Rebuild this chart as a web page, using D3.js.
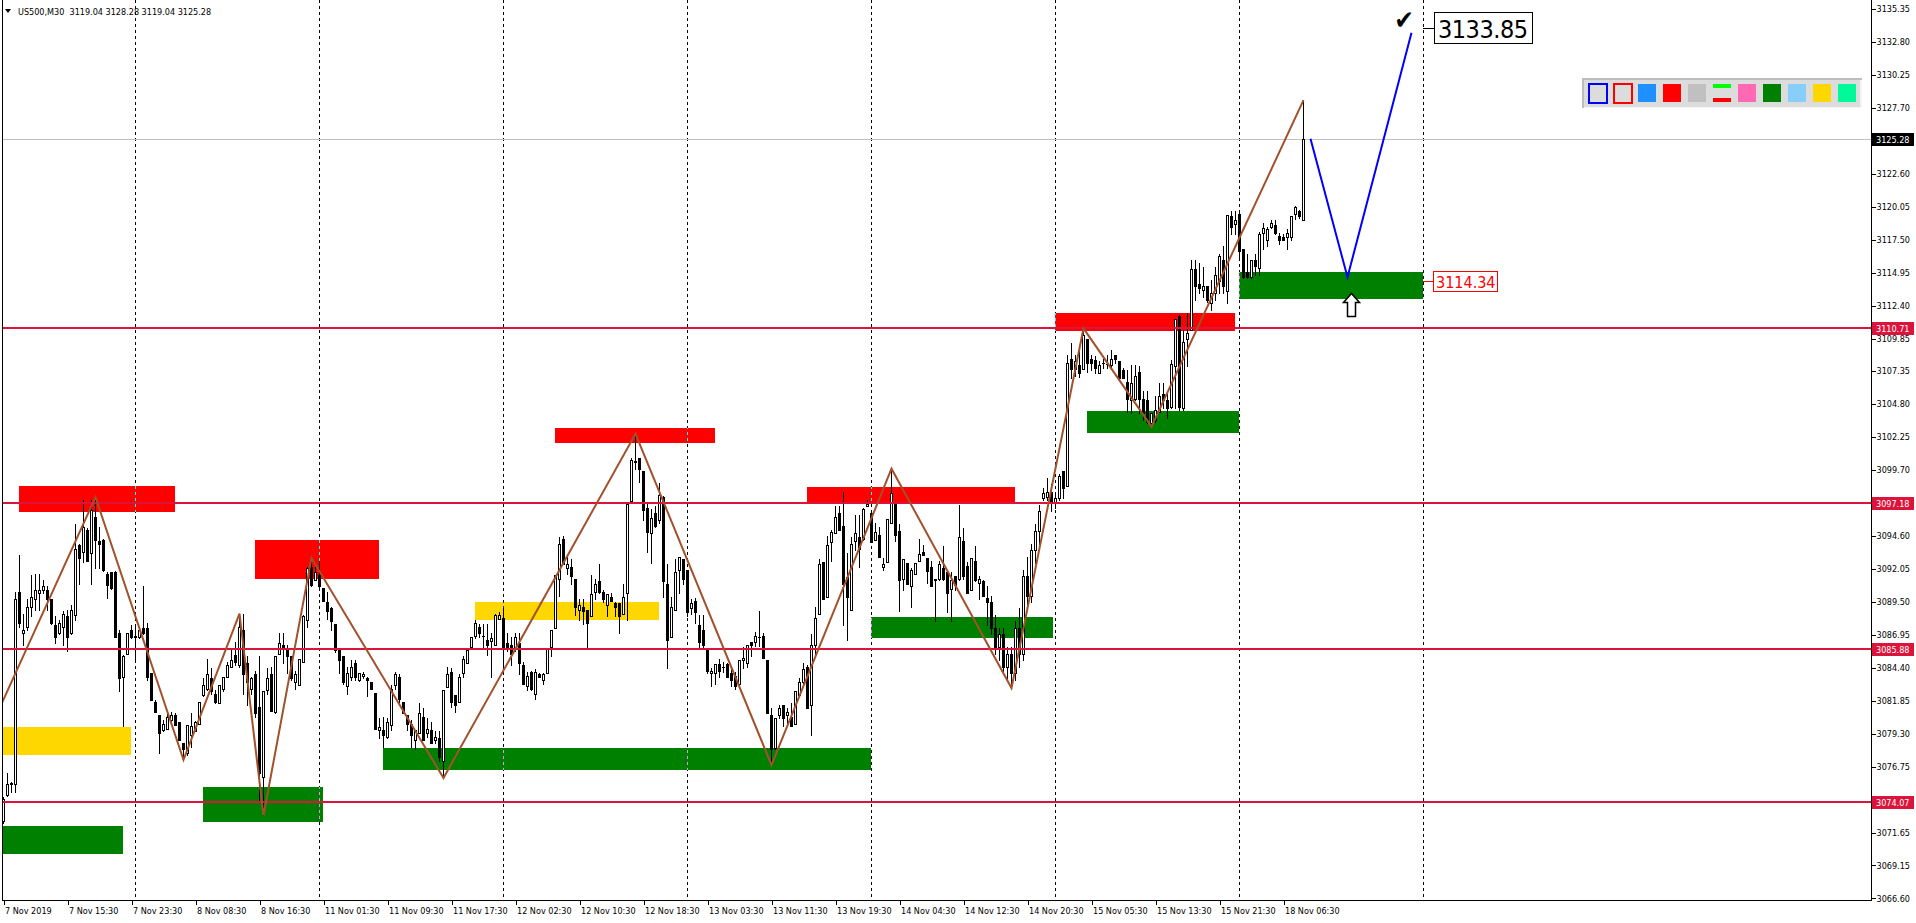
<!DOCTYPE html>
<html><head><meta charset="utf-8">
<script src="https://cdn.jsdelivr.net/npm/d3@7"></script>
<style>
html,body{margin:0;padding:0;background:#fff;overflow:hidden}
svg{display:block}
text{font-family:"DejaVu Sans Condensed","DejaVu Sans",sans-serif}
</style></head>
<body><svg id="c" width="1916" height="923"></svg>
<script>
// ---------------- DATA ----------------
const symbolTitle = "US500,M30";
const headerValues = ["3119.04", "3128.28", "3119.04", "3125.28"];

// M30 candles [open, high, low, close], bar 0 = 7 Nov 2019 07:30
const ohlc = [
[3072.6,3074.4,3072.4,3074.3],[3074.6,3076.3,3074.5,3075.4],[3075.4,3075.6,3074.8,3075.5],[3075.4,3090.3,3074.8,3089.7],
[3090.3,3093.1,3087.6,3087.9],[3087.1,3088.6,3086.2,3087.3],[3087.6,3089.7,3087.3,3089.1],[3089.1,3091.6,3088.4,3089.9],
[3089.7,3091.7,3088.9,3090.4],[3090.2,3091.7,3088.9,3090.4],[3090.4,3091.2,3090.2,3090.7],[3090.4,3090.7,3088.9,3089.7],
[3089.7,3089.7,3087.8,3087.9],[3087.7,3088.4,3086.3,3086.8],[3087.1,3088.1,3087.0,3087.9],[3087.6,3088.8,3086.2,3088.6],
[3088.4,3088.9,3085.7,3086.8],[3087.1,3089.3,3087.0,3088.9],[3088.5,3095.5,3088.1,3093.6],[3093.9,3094.0,3090.9,3092.9],
[3093.4,3097.4,3092.6,3095.3],[3095.1,3095.2,3092.7,3092.7],[3093.3,3097.4,3090.9,3096.6],[3096.1,3097.6,3092.1,3094.3],
[3094.2,3095.3,3092.1,3094.0],[3094.3,3094.4,3091.9,3092.0],[3091.7,3091.8,3089.8,3090.8],[3091.8,3091.8,3090.5,3090.6],
[3091.8,3091.9,3086.8,3086.8],[3087.1,3087.3,3082.6,3083.6],[3083.7,3085.4,3079.9,3085.3],[3085.5,3087.1,3085.5,3087.1],
[3087.3,3087.7,3086.7,3086.8],[3086.8,3087.7,3085.0,3086.9],[3086.8,3087.4,3086.7,3087.3],[3087.5,3090.7,3087.0,3087.1],
[3087.5,3087.9,3083.5,3083.7],[3084.0,3084.0,3081.9,3081.9],[3081.8,3081.9,3081.0,3081.0],[3080.8,3080.8,3077.8,3079.4],
[3079.6,3080.4,3079.5,3080.1],[3079.7,3081.0,3079.7,3080.6],[3080.4,3081.0,3080.1,3080.8],[3080.8,3080.9,3080.0,3080.0],
[3080.2,3080.2,3078.8,3078.8],[3078.6,3078.6,3077.3,3078.1],[3077.8,3080.0,3077.7,3080.0],[3079.2,3080.9,3078.3,3079.9],
[3079.5,3080.3,3079.5,3080.2],[3080.1,3081.8,3080.1,3081.8],[3082.3,3083.6,3082.2,3083.1],[3082.8,3085.1,3082.7,3083.9],
[3083.6,3084.4,3082.4,3082.6],[3082.4,3082.7,3081.7,3081.8],[3081.7,3083.1,3081.7,3083.1],[3082.8,3083.7,3082.6,3083.7],
[3083.7,3084.9,3083.7,3084.6],[3084.5,3085.8,3084.5,3085.0],[3085.4,3086.4,3084.6,3084.9],[3084.6,3088.6,3084.5,3087.6],
[3087.3,3088.6,3082.4,3083.9],[3084.8,3085.3,3081.5,3083.3],[3082.8,3083.7,3082.4,3083.6],[3083.9,3084.2,3080.6,3080.9],
[3081.4,3085.3,3074.2,3076.3],[3076.0,3082.6,3073.0,3082.6],[3082.7,3084.4,3082.4,3083.6],[3083.9,3084.5,3081.1,3081.1],
[3081.0,3085.3,3080.9,3085.3],[3085.5,3087.1,3085.5,3086.3],[3086.2,3087.1,3084.8,3085.9],[3085.9,3086.2,3084.0,3085.3],
[3085.3,3085.3,3083.5,3083.6],[3083.3,3084.2,3082.8,3083.9],[3083.1,3085.1,3083.1,3085.1],[3084.9,3088.5,3084.9,3088.4],
[3088.1,3092.2,3087.6,3092.1],[3092.2,3092.9,3090.7,3090.8],[3091.2,3092.2,3091.2,3091.8],[3091.6,3092.7,3090.6,3090.7],
[3090.6,3090.6,3089.6,3089.6],[3089.5,3090.3,3088.2,3088.8],[3089.0,3089.1,3087.3,3088.0],[3087.8,3087.8,3085.6,3085.8],
[3085.9,3085.9,3084.0,3085.0],[3085.3,3085.3,3083.2,3083.3],[3083.0,3084.5,3082.4,3084.0],[3083.7,3085.0,3083.5,3084.5],
[3084.8,3085.0,3083.5,3083.7],[3083.5,3084.0,3083.4,3084.0],[3083.8,3084.1,3083.6,3083.9],[3083.6,3083.7,3082.2,3083.5],
[3083.3,3083.3,3082.8,3082.8],[3082.5,3082.5,3079.7,3079.7],[3079.6,3080.5,3079.0,3079.8],[3079.6,3080.6,3078.3,3079.2],
[3079.1,3080.5,3079.0,3080.2],[3080.0,3083.1,3079.6,3082.8],[3083.1,3084.1,3082.8,3083.9],[3083.7,3083.9,3081.8,3082.0],
[3081.8,3081.8,3080.9,3080.9],[3080.8,3080.8,3079.6,3080.1],[3080.1,3080.4,3078.3,3079.2],[3078.8,3079.6,3078.1,3079.6],
[3079.4,3081.7,3079.4,3080.9],[3080.6,3081.3,3078.8,3078.8],[3079.4,3080.5,3079.1,3079.7],[3079.6,3080.2,3078.6,3078.6],
[3078.8,3079.5,3078.6,3079.1],[3079.0,3079.5,3077.2,3077.5],[3077.2,3082.7,3075.9,3082.7],[3082.9,3084.5,3082.9,3083.9],
[3084.1,3084.4,3081.4,3081.8],[3082.3,3082.3,3081.0,3081.5],[3081.8,3083.9,3081.8,3083.7],[3084.0,3085.3,3083.7,3085.1],
[3084.8,3085.9,3084.8,3085.8],[3086.0,3086.8,3086.0,3086.8],[3086.9,3088.1,3086.7,3087.9],[3087.6,3087.8,3086.8,3087.1],
[3086.9,3087.8,3085.9,3086.9],[3086.6,3087.8,3085.4,3086.2],[3086.5,3087.1,3083.7,3086.7],[3086.2,3088.6,3086.2,3088.5],
[3088.2,3088.7,3088.2,3088.5],[3088.3,3089.0,3084.5,3086.0],[3086.3,3087.1,3085.7,3086.0],[3086.2,3086.8,3084.6,3085.5],
[3085.9,3087.1,3085.7,3086.8],[3086.3,3087.1,3083.9,3084.8],[3084.6,3084.9,3083.2,3083.2],[3083.0,3084.1,3082.7,3083.8],
[3084.1,3084.2,3082.7,3082.8],[3082.4,3084.3,3082.0,3084.1],[3083.9,3084.0,3083.7,3083.7],[3083.5,3084.0,3083.2,3083.9],
[3084.0,3085.9,3084.0,3085.9],[3086.0,3087.3,3085.3,3087.3],[3087.5,3091.6,3087.5,3091.6],[3091.3,3094.5,3090.0,3094.0],
[3094.4,3094.6,3092.4,3092.4],[3092.1,3093.0,3091.7,3092.4],[3092.2,3092.8,3090.9,3091.5],[3091.3,3091.3,3088.5,3089.1],
[3088.9,3089.7,3088.1,3089.3],[3089.1,3089.7,3087.8,3088.8],[3088.9,3088.9,3085.9,3087.9],[3088.4,3091.6,3088.4,3090.1],
[3090.3,3091.3,3089.7,3090.9],[3091.1,3092.4,3090.2,3090.3],[3090.3,3090.4,3089.5,3089.7],[3089.3,3090.1,3088.4,3090.1],
[3089.9,3090.2,3089.6,3089.6],[3089.4,3089.5,3088.4,3089.1],[3089.4,3089.4,3087.1,3088.4],[3088.6,3090.9,3088.6,3089.9],
[3090.2,3097.1,3088.1,3097.1],[3097.3,3100.6,3097.3,3100.5],[3100.4,3102.5,3099.8,3100.3],[3100.6,3100.6,3098.8,3099.8],
[3099.6,3099.6,3095.8,3096.6],[3096.8,3097.1,3093.4,3094.9],[3094.8,3096.7,3092.5,3096.0],[3096.4,3096.9,3095.3,3095.4],
[3095.8,3098.7,3095.6,3097.8],[3097.6,3097.7,3089.9,3091.1],[3090.9,3092.4,3084.4,3086.6],[3086.8,3089.9,3086.8,3089.1],
[3088.9,3092.8,3088.9,3091.8],[3092.0,3093.0,3090.2,3093.0],[3092.8,3092.8,3090.9,3091.3],[3092.0,3092.0,3088.4,3088.7],
[3089.0,3089.7,3088.6,3089.4],[3089.6,3089.8,3087.9,3088.7],[3087.7,3088.5,3085.9,3086.4],[3087.3,3088.5,3085.9,3086.2],
[3085.8,3085.8,3084.0,3084.2],[3084.0,3084.4,3083.0,3084.2],[3084.0,3084.7,3083.2,3084.7],[3084.7,3085.1,3083.7,3084.2],
[3084.5,3084.9,3084.1,3084.5],[3084.7,3084.8,3083.7,3083.7],[3084.0,3084.4,3083.0,3083.5],[3083.8,3084.1,3082.8,3083.0],
[3083.2,3085.0,3083.0,3085.0],[3085.0,3086.0,3084.4,3085.2],[3084.8,3086.2,3084.5,3086.2],[3086.4,3086.4,3085.3,3086.2],
[3086.4,3087.2,3086.1,3086.9],[3086.8,3088.8,3086.1,3086.8],[3086.9,3087.1,3085.2,3085.2],[3085.0,3085.0,3080.9,3080.9],
[3080.8,3081.3,3076.9,3078.1],[3078.2,3080.5,3078.1,3080.5],[3080.8,3081.5,3080.5,3081.3],[3081.5,3081.5,3079.9,3080.5],
[3080.8,3081.3,3080.1,3081.0],[3080.6,3081.7,3079.9,3079.9],[3080.1,3082.6,3080.1,3082.6],[3082.3,3083.6,3082.2,3083.3],
[3083.3,3084.8,3083.2,3084.3],[3084.5,3084.6,3081.3,3081.3],[3081.5,3087.0,3079.2,3086.2],[3086.2,3089.1,3085.3,3088.3],
[3088.6,3092.8,3088.6,3092.4],[3092.6,3092.6,3089.7,3089.7],[3089.9,3094.6,3089.9,3093.9],[3094.1,3095.1,3092.7,3094.9],
[3094.8,3096.9,3094.8,3096.1],[3096.4,3096.9,3095.1,3095.1],[3095.4,3098.0,3087.7,3090.9],[3091.4,3093.3,3086.6,3089.9],
[3088.9,3094.5,3088.9,3094.0],[3094.2,3096.2,3093.5,3094.8],[3094.5,3096.2,3092.2,3093.6],[3094.4,3096.8,3094.3,3096.7],
[3096.9,3097.4,3096.9,3097.1],[3096.4,3096.4,3094.1,3094.1],[3094.3,3095.6,3094.3,3094.9],[3094.7,3095.3,3093.0,3093.0],
[3092.2,3092.9,3092.0,3092.4],[3092.6,3095.9,3092.6,3095.9],[3095.6,3099.8,3095.6,3097.9],[3097.1,3097.1,3094.2,3094.7],
[3095.0,3095.5,3088.8,3091.2],[3091.3,3092.8,3090.4,3092.8],[3092.5,3092.5,3090.9,3090.9],[3090.7,3092.1,3089.1,3092.0],
[3091.7,3092.5,3091.7,3092.5],[3092.7,3094.4,3092.7,3093.2],[3093.4,3093.9,3093.1,3093.1],[3092.9,3092.9,3091.0,3091.9],
[3092.2,3092.7,3090.7,3090.7],[3091.3,3091.3,3088.0,3091.2],[3091.3,3092.7,3091.2,3092.4],[3092.1,3093.8,3091.2,3091.3],
[3091.8,3091.8,3088.7,3090.2],[3090.5,3091.8,3088.0,3091.2],[3091.5,3091.5,3090.4,3090.8],[3091.3,3097.0,3091.2,3094.5],
[3094.2,3095.2,3091.3,3091.5],[3092.3,3092.6,3090.2,3090.2],[3090.4,3092.9,3090.4,3092.9],[3092.7,3093.8,3091.1,3091.2],
[3091.0,3091.5,3089.7,3091.3],[3091.1,3091.2,3090.0,3090.0],[3089.8,3090.7,3087.7,3089.5],[3089.5,3090.0,3087.0,3087.5],
[3087.5,3088.5,3085.5,3086.0],[3086.0,3087.5,3085.0,3087.0],[3087.0,3087.5,3084.0,3084.5],[3084.5,3086.0,3083.5,3085.5],
[3085.5,3086.0,3082.85,3084.0],[3084.0,3088.0,3083.5,3087.5],[3087.5,3089.0,3084.5,3085.5],[3085.5,3092.0,3085.0,3091.5],
[3091.5,3093.0,3089.0,3090.0],[3090.0,3094.0,3089.5,3093.5],[3093.5,3095.5,3092.5,3095.0],[3095.0,3097.0,3094.0,3096.5],
[3097.5,3098.3,3097.4,3097.9],[3097.6,3099.1,3097.4,3098.0],[3098.0,3098.6,3096.5,3097.2],[3097.2,3098.0,3096.8,3097.5],
[3097.5,3099.4,3097.4,3099.2],[3099.6,3099.6,3097.5,3098.3],[3098.5,3108.6,3098.5,3108.0],[3108.3,3109.5,3106.8,3107.5],
[3107.5,3108.6,3107.0,3108.1],[3107.8,3108.9,3106.9,3107.2],[3107.5,3110.65,3107.5,3110.1],[3109.8,3109.8,3107.3,3108.0],
[3108.3,3108.6,3107.4,3108.0],[3108.2,3108.5,3107.2,3107.6],[3107.2,3108.1,3107.2,3107.8],[3108.0,3108.3,3107.6,3108.0],
[3107.9,3108.6,3107.6,3107.9],[3107.8,3109.0,3107.6,3108.3],[3108.6,3108.6,3108.0,3108.3],[3108.1,3108.1,3106.7,3106.8],
[3107.4,3107.6,3106.8,3106.8],[3106.5,3107.4,3104.2,3105.2],[3105.1,3107.8,3104.1,3106.4],[3105.2,3107.8,3105.1,3107.0],
[3107.3,3107.7,3104.1,3105.2],[3105.2,3105.8,3103.6,3104.1],[3105.1,3105.8,3103.3,3103.4],[3103.3,3104.1,3103.05,3104.1],
[3103.6,3105.4,3103.4,3104.3],[3104.2,3106.4,3104.2,3105.4],[3105.6,3106.4,3104.5,3105.1],[3105.1,3105.6,3103.7,3104.5],
[3104.6,3108.2,3104.5,3107.9],[3107.7,3111.4,3104.5,3111.4],[3111.6,3111.7,3104.3,3104.6],[3104.5,3110.5,3104.3,3109.6],
[3109.8,3111.8,3107.7,3110.3],[3110.5,3115.9,3110.5,3115.2],[3115.2,3115.9,3112.8,3113.9],[3114.1,3115.7,3113.4,3113.8],
[3113.6,3115.4,3113.1,3113.9],[3113.9,3113.9,3112.7,3112.8],[3112.6,3114.4,3112.1,3113.4],[3113.4,3115.4,3112.8,3114.8],
[3114.3,3116.4,3113.4,3116.2],[3115.9,3117.0,3113.4,3113.9],[3113.5,3119.4,3112.6,3119.4],[3119.3,3119.7,3117.9,3118.5],
[3118.7,3119.7,3117.9,3119.0],[3119.5,3119.7,3115.9,3116.6],[3116.8,3116.8,3114.5,3114.6],[3115.0,3116.4,3114.5,3114.6],
[3114.6,3115.9,3114.5,3115.9],[3115.9,3116.4,3114.8,3115.5],[3115.3,3118.1,3114.8,3117.9],[3118.0,3118.8,3116.8,3118.4],
[3117.5,3118.5,3117.0,3118.3],[3118.5,3119.0,3118.4,3118.8],[3118.6,3119.0,3117.9,3118.0],[3117.8,3118.0,3117.2,3117.5],
[3117.7,3117.9,3117.5,3117.5],[3117.7,3118.3,3116.8,3118.0],[3117.7,3119.3,3117.5,3119.3],[3119.5,3120.1,3119.1,3120.0],
[3119.7,3119.8,3119.2,3119.3],[3119.04,3128.28,3119.04,3125.28]
];

const timeLabels = ["7 Nov 2019","7 Nov 15:30","7 Nov 23:30","8 Nov 08:30","8 Nov 16:30","11 Nov 01:30",
  "11 Nov 09:30","11 Nov 17:30","12 Nov 02:30","12 Nov 10:30","12 Nov 18:30","13 Nov 03:30","13 Nov 11:30",
  "13 Nov 19:30","14 Nov 04:30","14 Nov 12:30","14 Nov 20:30","15 Nov 05:30","15 Nov 13:30","15 Nov 21:30","18 Nov 06:30"];
const barsPerLabel = 16;
const daySeparatorBars = [33, 79, 125, 171, 217, 263, 309, 355];

const priceTicks = [3135.35,3132.80,3130.25,3127.70,3122.60,3120.05,3117.50,3114.95,3112.40,3109.85,3107.35,
  3104.80,3102.25,3099.70,3094.60,3092.05,3089.50,3086.95,3084.40,3081.85,3079.30,3076.75,3071.65,3069.15,3066.60];
const priceDomain = [3066.60, 3135.35];

const levelPrices = [3110.71, 3097.18, 3085.88, 3074.07];
const bidPrice = 3125.28;

// zones: start bar, end bar, upper price, lower price, kind
const zoneStart = [4, 63, -6, -6, 50, 118, 95, 138, 201, 217, 263, 271, 309];
const zoneEnd   = [43, 94, 32, 30, 80, 164, 217, 178, 253, 262.5, 308, 309, 355];
const zoneHigh  = [3098.46,3094.29,3079.86,3072.19,3075.20,3089.50,3078.22,3102.95,3098.41,3088.37,3111.86,3104.26,3115.00];
const zoneLow   = [3096.47,3091.28,3077.67,3070.03,3072.50,3088.10,3076.52,3101.77,3097.13,3086.74,3110.47,3102.58,3112.94];
const zoneKind  = ["supply","supply","pending","demand","demand","pending","demand","supply","supply","demand","supply","demand","demand"];

// zigzag swing points [bar, price]
const zigzag = [[-12,3073.8],[23,3097.6],[45,3077.3],[59,3088.6],[65,3073.0],[77,3092.9],[110,3075.9],
  [158,3102.5],[192,3076.9],[222,3099.8],[252,3082.85],[270,3110.65],[287,3103.05],[325,3128.28]];
// projected path [bar, price]
const projection = [[326.75,3125.3],[336,3114.6],[352,3133.5]];
const targetPrice = 3133.85;
const entryPrice = 3114.34;
const labelBar = 355;
const arrowAt = [337, 3113.4];

const toolbarItems = ["boxBlue","boxRed","#1E90FF","#FF0000","#C0C0C0","lines","#FF69B4","#008000","#87CEFA","#FFD700","#00FA9A"];

// ---------------- DRAW ----------------
const W = 1916, H = 923;
const plotRight = 1871, plotBottom = 900, plotLeft = 2;
const svg = d3.select("#c");
const x = d3.scaleLinear().domain([0, 467]).range([3, 3 + 4 * 467]);
const y = d3.scaleLinear().domain(priceDomain).range([898.3, 8.7]);
const zoneColor = {supply: "#FF0000", demand: "#008000", pending: "#FFD700"};

svg.append("rect").attr("width", W).attr("height", H).attr("fill", "#fff");
svg.append("defs").append("clipPath").attr("id", "plot")
  .append("rect").attr("x", plotLeft + 1).attr("y", 0).attr("width", plotRight - plotLeft - 1).attr("height", plotBottom);

const plot = svg.append("g").attr("clip-path", "url(#plot)");
const base = plot.append("g").style("isolation", "isolate");
base.append("rect").attr("width", plotRight).attr("height", plotBottom).attr("fill", "#fff");

// zones
base.append("g").attr("shape-rendering", "crispEdges").selectAll("rect")
  .data(zoneKind.map((k, i) => ({k, s: zoneStart[i], e: zoneEnd[i], hi: zoneHigh[i], lo: zoneLow[i]})))
  .join("rect")
  .attr("x", d => Math.round(x(d.s))).attr("y", d => Math.round(y(d.hi)))
  .attr("width", d => Math.round(x(d.e)) - Math.round(x(d.s)))
  .attr("height", d => Math.round(y(d.lo)) - Math.round(y(d.hi)))
  .attr("fill", d => zoneColor[d.k]);

// day separators (XOR-like over the zones)
base.append("g").attr("shape-rendering", "crispEdges").selectAll("line")
  .data(daySeparatorBars).join("line")
  .attr("x1", d => Math.round(x(d)) + 0.5).attr("x2", d => Math.round(x(d)) + 0.5)
  .attr("y1", 0).attr("y2", plotBottom)
  .attr("stroke", "#fff").attr("stroke-dasharray", "3,3")
  .style("mix-blend-mode", "difference");

// bid line
plot.append("line").attr("shape-rendering", "crispEdges")
  .attr("x1", 0).attr("x2", plotRight).attr("y1", Math.round(y(bidPrice)) + 0.5).attr("y2", Math.round(y(bidPrice)) + 0.5)
  .attr("stroke", "#C0C0C0");

// candles
const cg = plot.append("g").attr("shape-rendering", "crispEdges");
const candles = cg.selectAll("g").data(ohlc.map((d, i) => ({o: d[0], h: d[1], l: d[2], c: d[3], i}))).join("g");
candles.append("rect")
  .attr("x", d => Math.round(x(d.i))).attr("y", d => Math.round(y(d.h)))
  .attr("width", 1).attr("height", d => Math.round(y(d.l)) - Math.round(y(d.h)) + 1).attr("fill", "#000");
candles.append("rect")
  .attr("x", d => Math.round(x(d.i)) - 1).attr("y", d => Math.round(y(Math.max(d.o, d.c))))
  .attr("width", 3).attr("height", d => Math.round(y(Math.min(d.o, d.c))) - Math.round(y(Math.max(d.o, d.c))) + 1)
  .attr("fill", "#000");
candles.filter(d => d.c > d.o).append("rect")
  .attr("x", d => Math.round(x(d.i)))
  .attr("y", d => Math.round(y(d.c)) + 1)
  .attr("width", 1).attr("height", d => Math.max(0, Math.round(y(d.o)) - Math.round(y(d.c)) - 1))
  .attr("fill", "#fff");

// horizontal levels
plot.append("g").attr("shape-rendering", "crispEdges").selectAll("rect").data(levelPrices).join("rect")
  .attr("x", 0).attr("width", plotRight).attr("y", d => Math.round(y(d)) - 1).attr("height", 2).attr("fill", "#DC143C");

// zigzag
const line = d3.line().x(d => x(d[0]) + 0.5).y(d => y(d[1]));
plot.append("path").datum(zigzag).attr("d", line).attr("fill", "none")
  .attr("stroke", "#A0522D").attr("stroke-width", 2).attr("stroke-linejoin", "miter");
// projection
plot.append("path").datum(projection).attr("d", line).attr("fill", "none")
  .attr("stroke", "#0000FF").attr("stroke-width", 2);

// arrow (hollow up arrow)
{
  const ax = Math.round(x(arrowAt[0])) + 0.5, ay = Math.round(y(arrowAt[1])) + 0.5;
  const pts = [[0,0],[8,9],[4,9],[4,23],[-4,23],[-4,9],[-8,9]].map(p => [ax + p[0], ay + p[1]]);
  plot.append("polygon").attr("points", pts.map(p => p.join(",")).join(" "))
    .attr("fill", "#fff").attr("stroke", "#000").attr("stroke-width", 1.5);
}

// check mark
{
  const last = projection[projection.length - 1];
  svg.append("text").attr("x", x(last[0]) - 7).attr("y", y(targetPrice) + 1)
    .attr("text-anchor", "middle").attr("font-size", 26).attr("fill", "#000").text("\u2714");
}

// price labels at labelBar
{
  const lx = Math.round(x(labelBar));
  const ty = Math.round(y(targetPrice)) + 0.5;
  svg.append("line").attr("x1", lx).attr("x2", lx + 11).attr("y1", ty).attr("y2", ty).attr("stroke", "#000").attr("shape-rendering","crispEdges");
  svg.append("rect").attr("x", lx + 11.5).attr("y", ty - 16).attr("width", 98).attr("height", 31)
    .attr("fill", "#fff").attr("stroke", "#000").attr("shape-rendering","crispEdges");
  svg.append("text").attr("x", lx + 15).attr("y", ty + 9).attr("font-size", 25).attr("fill", "#000")
    .attr("textLength", 90).text(targetPrice.toFixed(2));

  const ey = Math.round(y(entryPrice)) + 0.5;
  svg.append("line").attr("x1", lx).attr("x2", lx + 11).attr("y1", ey).attr("y2", ey).attr("stroke", "#FF0000").attr("shape-rendering","crispEdges");
  svg.append("rect").attr("x", lx + 10.5).attr("y", ey - 10).attr("width", 64).attr("height", 20)
    .attr("fill", "#fff").attr("stroke", "#FF0000").attr("shape-rendering","crispEdges");
  svg.append("text").attr("x", lx + 13).attr("y", ey + 6).attr("font-size", 16).attr("fill", "#FF0000")
    .text(entryPrice.toFixed(2));
}

// frame
const frame = svg.append("g").attr("shape-rendering", "crispEdges");
frame.append("line").attr("x1", plotRight + 0.5).attr("x2", plotRight + 0.5).attr("y1", 0).attr("y2", plotBottom + 1).attr("stroke", "#000");
frame.append("line").attr("x1", plotLeft + 0.5).attr("x2", plotLeft + 0.5).attr("y1", 0).attr("y2", plotBottom + 1).attr("stroke", "#000");
frame.append("line").attr("x1", plotLeft).attr("x2", plotRight + 1).attr("y1", plotBottom + 0.5).attr("y2", plotBottom + 0.5).attr("stroke", "#000");

// right axis
const yAxis = d3.axisRight(y).tickValues(priceTicks).tickFormat(d3.format(".2f")).tickSizeInner(4).tickSizeOuter(0).tickPadding(1);
const ya = svg.append("g").attr("transform", `translate(${plotRight + 0.5},0)`).call(yAxis);
ya.select(".domain").remove();
ya.selectAll("line").attr("shape-rendering", "crispEdges").attr("stroke", "#000");
ya.selectAll("text").attr("font-family", '"DejaVu Sans Condensed","DejaVu Sans",sans-serif').attr("font-size", 9).attr("fill", "#000");

// level labels on axis
const lv = svg.append("g");
[...levelPrices.map(p => ({p, bg: "#DC143C"})), {p: bidPrice, bg: "#000"}].forEach(d => {
  const cy = Math.round(y(d.p));
  lv.append("rect").attr("x", plotRight + 1).attr("y", cy - 6).attr("width", 42).attr("height", 13).attr("fill", d.bg).attr("shape-rendering","crispEdges");
  lv.append("text").attr("x", plotRight + 5).attr("y", cy + 3.5).attr("font-size", 9).attr("fill", "#fff").text(d.p.toFixed(2));
});

// bottom axis
const labelBars = timeLabels.map((t, i) => i * barsPerLabel);
const xAxis = d3.axisBottom(x).tickValues(labelBars).tickFormat((d, i) => timeLabels[i]).tickSizeInner(4).tickSizeOuter(0).tickPadding(3);
const xa = svg.append("g").attr("transform", `translate(0.5,${plotBottom + 0.5})`).call(xAxis);
xa.select(".domain").remove();
xa.selectAll("line").attr("shape-rendering", "crispEdges").attr("stroke", "#000");
xa.selectAll("text").attr("text-anchor", "start").attr("dx", 1).attr("font-family", '"DejaVu Sans Condensed","DejaVu Sans",sans-serif').attr("font-size", 9).attr("fill", "#000");

// header
svg.append("path").attr("d", "M5,9 L11,9 L8,13 Z").attr("fill", "#000");
svg.append("text").attr("x", 18).attr("y", 14.5).attr("font-size", 9).attr("fill", "#000")
  .attr("xml:space", "preserve").text(symbolTitle + "  " + headerValues.join(" "));

// toolbar
{
  const tb = svg.append("g").attr("shape-rendering", "crispEdges");
  const tx = 1582, ty = 78;
  tb.append("rect").attr("x", tx).attr("y", ty).attr("width", 280).attr("height", 30).attr("fill", "#F4F4F4");
  tb.append("rect").attr("x", tx).attr("y", ty).attr("width", 280).attr("height", 2).attr("fill", "#BDBDBD");
  tb.append("rect").attr("x", tx).attr("y", ty).attr("width", 2).attr("height", 30).attr("fill", "#BDBDBD");
  tb.append("rect").attr("x", tx + 2).attr("y", ty + 2).attr("width", 276).attr("height", 27).attr("fill", "#DCDCDC");
  toolbarItems.forEach((c, i) => {
    const bx = tx + 6 + i * 25, by = ty + 6;
    if (c === "boxBlue" || c === "boxRed") {
      tb.append("rect").attr("x", bx + 0.5).attr("y", by - 0.5).attr("width", 18).attr("height", 19)
        .attr("fill", "#DCDCDC").attr("stroke", c === "boxBlue" ? "#0000FF" : "#FF0000").attr("stroke-width", 2);
    } else if (c === "lines") {
      tb.append("rect").attr("x", bx).attr("y", by).attr("width", 18).attr("height", 4).attr("fill", "#00FF00");
      tb.append("rect").attr("x", bx).attr("y", by + 14).attr("width", 18).attr("height", 4).attr("fill", "#FF0000");
    } else {
      tb.append("rect").attr("x", bx).attr("y", by).attr("width", 18).attr("height", 18).attr("fill", c);
    }
  });
}
</script>
</body></html>
